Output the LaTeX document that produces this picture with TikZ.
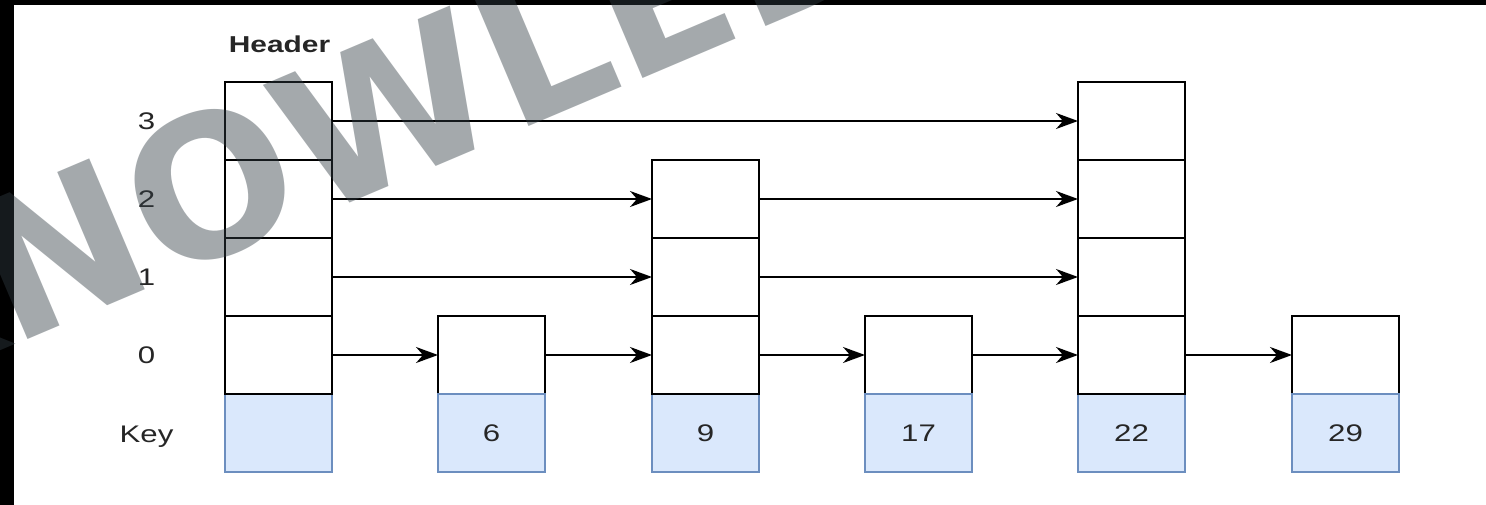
\documentclass[tikz,border=0pt]{standalone}
\usepackage{fontspec}
\setmainfont{Liberation Sans}
\newfontfamily\wmfont{DejaVu Sans}
\usetikzlibrary{arrows.meta}
\definecolor{keyfill}{HTML}{DAE8FC}
\definecolor{keydraw}{HTML}{6C8EBF}
\definecolor{txt}{HTML}{262626}
\definecolor{wm}{RGB}{50,61,68}
\newcommand\wide[1]{\scalebox{1.3}[1]{#1}}
\begin{document}
\begin{tikzpicture}[x=1pt,y=-1pt,
  cell/.style={draw=black, line width=1.8pt, fill=white, minimum width=107pt, minimum height=78pt, inner sep=0pt, outer sep=0pt},
  keycell/.style={draw=keydraw, line width=1.6pt, fill=keyfill, minimum width=107pt, minimum height=78pt, inner sep=0pt, outer sep=0pt, text=txt, font=\fontsize{24}{28}\selectfont, text height=17pt, text depth=0pt},
  lab/.style={text=txt, font=\fontsize{24}{28}\selectfont, text height=17pt, text depth=0pt, inner sep=0pt},
  ptr/.style={-{Stealth[length=22pt,width=16pt,inset=7pt]}, line width=1.6pt, black},
  wmark/.style={rotate=23, text=wm, text opacity=0.44, font=\wmfont\bfseries\fontsize{195}{200}\selectfont, inner sep=0pt}
]
\useasboundingbox (0,0) rectangle (1486,505);
\fill[black] (0,0) rectangle (1486,505);
\fill[white] (14,5) rectangle (1486,505);

% labels
\node[lab, font=\fontsize{23}{28}\selectfont\bfseries] (hdr) at (279.5,44) {\wide{Header}};
\node[lab] (l3) at (146.5,121) {\wide{3}};
\node[lab] (l2) at (146.5,199) {\wide{2}};
\node[lab] (l1) at (146.5,277) {\wide{1}};
\node[lab] (l0) at (146.5,355) {\wide{0}};
\node[lab] (lk) at (146.5,434) {\wide{Key}};

% header column
\node[keycell] (kh) at (278.5,433) {};
\node[cell] (h3) at (278.5,121) {};
\node[cell] (h2) at (278.5,199) {};
\node[cell] (h1) at (278.5,277) {};
\node[cell] (h0) at (278.5,355) {};

% node 6
\node[cell] (a0) at (491.5,355) {};
\node[keycell] (ka) at (491.5,433) {\wide{6}};

% node 9
\node[keycell] (kb) at (705.5,433) {\wide{9}};
\node[cell] (b2) at (705.5,199) {};
\node[cell] (b1) at (705.5,277) {};
\node[cell] (b0) at (705.5,355) {};

% node 17
\node[cell] (c0) at (918.5,355) {};
\node[keycell] (kc) at (918.5,433) {\wide{17}};

% node 22
\node[keycell] (kd) at (1131.5,433) {\wide{22}};
\node[cell] (d3) at (1131.5,121) {};
\node[cell] (d2) at (1131.5,199) {};
\node[cell] (d1) at (1131.5,277) {};
\node[cell] (d0) at (1131.5,355) {};

% node 29
\node[cell] (e0) at (1345.5,355) {};
\node[keycell] (ke) at (1345.5,433) {\wide{29}};

% pointers
\draw[ptr] (h3) -- (d3);
\draw[ptr] (h2) -- (b2);
\draw[ptr] (b2) -- (d2);
\draw[ptr] (h1) -- (b1);
\draw[ptr] (b1) -- (d1);
\draw[ptr] (h0) -- (a0);
\draw[ptr] (a0) -- (b0);
\draw[ptr] (b0) -- (c0);
\draw[ptr] (c0) -- (d0);
\draw[ptr] (d0) -- (e0);

% watermark
\begin{scope}
\clip (0,0) rectangle (1486,505);
\coordinate (wq) at (512,134);
\node[wmark, anchor=base east] (wma) at (wq) {KNOW};
\node[wmark, anchor=base west] (wmb) at (wq) {LEDGE};
\end{scope}
\end{tikzpicture}
\end{document}
